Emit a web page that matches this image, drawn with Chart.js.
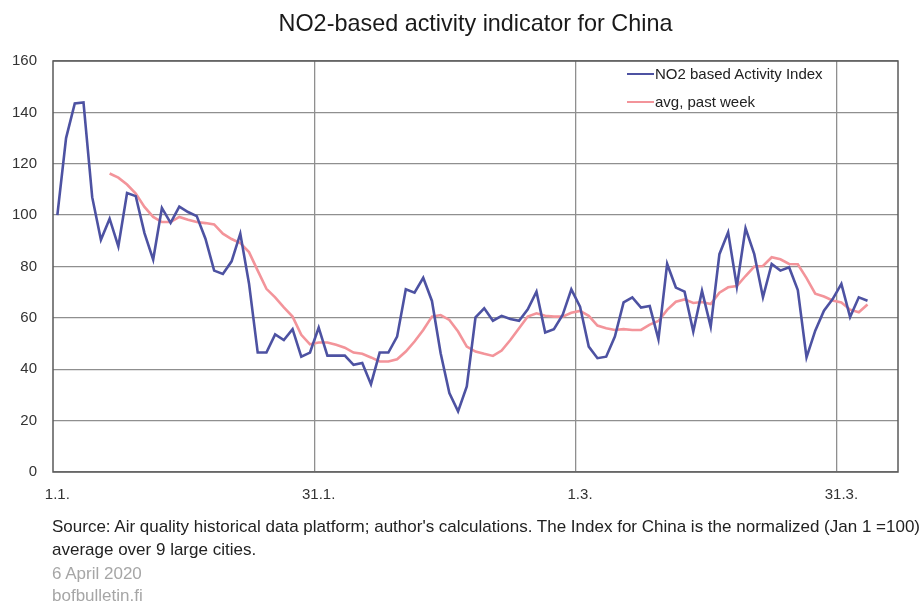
<!DOCTYPE html>
<html>
<head>
<meta charset="utf-8">
<script src="https://cdn.jsdelivr.net/npm/chart.js@4.4.0/dist/chart.umd.min.js"></script>
<style>
  html, body { margin: 0; padding: 0; background: #fff; }
  #wrap { position: relative; width: 922px; height: 604px; font-family: "Liberation Sans", Arial, sans-serif; }
  canvas { position: absolute; left: 0; top: 0; }
  .t { position: absolute; white-space: nowrap; }
  #title { left: 53px; width: 845px; top: 9px; text-align: center; font-size: 23.4px; line-height: 28px; color: #1a1a1a; }
  .leg { font-size: 15px; line-height: 20px; color: #222; left: 627px; }
  .sw { display: inline-block; width: 27px; height: 2px; vertical-align: middle; margin-right: 1px; position: relative; top: -1px; }
  .src { left: 52px; font-size: 17px; line-height: 23px; color: #222; }
  .meta { left: 52px; font-size: 17px; line-height: 22px; color: #a6a6a6; }
</style>
</head>
<body>
<div id="wrap">
  <canvas id="c" width="922" height="604"></canvas>
  <div class="t" id="title">NO2-based activity indicator for China</div>
  <div class="t leg" style="top:64px"><span class="sw" style="background:#4d52a2"></span>NO2 based Activity Index</div>
  <div class="t leg" style="top:92px"><span class="sw" style="background:#f3949a"></span>avg, past week</div>
  <div class="t src" style="top:515px">Source: Air quality historical data platform; author's calculations. The Index for China is the normalized (Jan 1 =100)<br>average over 9 large cities.</div>
  <div class="t meta" style="top:563px">6 April 2020<br>bofbulletin.fi</div>
</div>
<script>
// Daily categories, 1.1.2020 – 6.4.2020
const categories = [];
for (let i = 0; i < 97; i++) {
  const d = new Date(2020, 0, 1 + i);
  categories.push(d.getDate() + '.' + (d.getMonth() + 1) + '.');
}
const tickLabels = ['1.1.', '31.1.', '1.3.', '31.3.'];

const activityIndex = [
  100, 130, 143.5, 143.9, 107, 90.4, 98.6, 87.8, 108.6, 107.4,
  93, 82.7, 102.8, 97, 103.3, 101.2, 99.6, 90.8, 78.4, 77.1,
  82, 92.8, 73.4, 46.5, 46.5, 53.6, 51.4, 55.6, 44.9, 46.5,
  56.2, 45.3, 45.3, 45.3, 41.7, 42.4, 34.2, 46.5, 46.5, 52.7,
  71.1, 69.8, 75.6, 66.6, 46.2, 30.7, 23.6, 33.3, 60.2, 63.7,
  58.9, 60.8, 59.6, 58.9, 63.3, 70.2, 54.3, 55.6, 61.1, 71.1,
  64.4, 48.8, 44.3, 44.9, 52.7, 66, 68, 64, 64.6, 51.7,
  81, 71.8, 70.2, 54.7, 70.5, 56.6, 84.8, 93.3, 72.2, 94.9,
  84.8, 68, 81, 78.4, 79.7, 70.8, 44.6, 55, 62.8, 67.3,
  73.2, 60.3, 68, 66.7, null, null, null
];

const weekAvg = [
  null, null, null, null, null, null, 116.2, 114.6, 111.9, 108.4,
  103.2, 99.3, 97.3, 97.3, 99.3, 98.2, 97.3, 96.9, 96.4, 92.8,
  90.7, 89.1, 85.6, 78.4, 71.3, 68, 64.1, 60.5, 53.4, 49.7,
  50.4, 50.4, 49.5, 48.4, 46.5, 46, 44.6, 43, 43, 43.9,
  46.9, 50.8, 55.3, 60.5, 61.1, 59.2, 54.7, 48.8, 46.9, 46,
  45.2, 47.3, 51.4, 56, 60.5, 61.8, 60.8, 60.5, 60.5, 62,
  62.7, 60.8, 57, 56, 55.3, 55.6, 55.3, 55.3, 57.4, 58.8,
  63.1, 66.3, 67.2, 65.8, 66.2, 65.4, 69.8, 71.9, 72.4, 76.3,
  80, 80.2, 83.6, 82.8, 81, 80.9, 75.5, 69.4, 68.3, 66.8,
  66, 63.2, 62.2, 65.2, null, null, null
];

const frame = {
  id: 'frame',
  beforeDatasetsDraw(chart) {
    const a = chart.chartArea, ctx = chart.ctx;
    ctx.save();
    ctx.strokeStyle = '#5a5a5a';
    ctx.lineWidth = 1.5;
    ctx.strokeRect(a.left, a.top, a.right - a.left, a.bottom - a.top);
    ctx.restore();
  }
};

new Chart(document.getElementById('c'), {
  type: 'line',
  data: {
    labels: categories,
    datasets: [
      { label: 'NO2 based Activity Index', data: activityIndex, borderColor: '#4d52a2', borderWidth: 2.6, pointRadius: 0, tension: 0, spanGaps: false },
      { label: 'avg, past week', data: weekAvg, borderColor: '#f3949a', borderWidth: 2.6, pointRadius: 0, tension: 0, spanGaps: false }
    ]
  },
  options: {
    responsive: false,
    animation: false,
    layout: { padding: { top: 61, right: 24, left: 0, bottom: 0 } },
    plugins: { legend: { display: false }, title: { display: false }, tooltip: { enabled: false } },
    scales: {
      x: {
        type: 'category',
        offset: true,
        afterFit(s) { s.height = 132; },
        grid: {
          offset: true,
          drawTicks: false,
          lineWidth: 1.3,
          color(ctx) {
            if (ctx.index === undefined || ctx.index === 0) return 'rgba(0,0,0,0)';
            return tickLabels.includes(categories[ctx.index]) ? '#8f8f8f' : 'rgba(0,0,0,0)';
          }
        },
        border: { display: false },
        ticks: {
          autoSkip: false,
          maxRotation: 0,
          minRotation: 0,
          padding: 14,
          color: '#333',
          font: { family: '"Liberation Sans", Arial, sans-serif', size: 15 },
          callback(value) {
            const l = this.getLabelForValue(value);
            return tickLabels.includes(l) ? l : '';
          }
        }
      },
      y: {
        min: 0,
        max: 160,
        afterFit(s) { s.width = 53; },
        grid: { drawTicks: false, lineWidth: 1.3, color: '#8f8f8f' },
        border: { display: false },
        ticks: {
          stepSize: 20,
          padding: 16,
          color: '#333',
          font: { family: '"Liberation Sans", Arial, sans-serif', size: 15 }
        }
      }
    }
  },
  plugins: [frame]
});
</script>
</body>
</html>
